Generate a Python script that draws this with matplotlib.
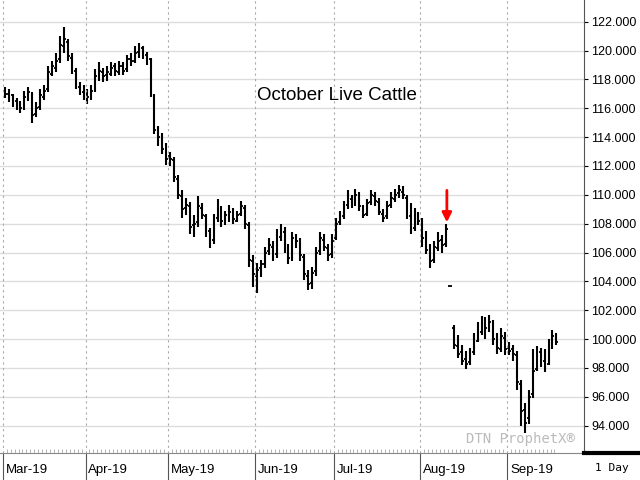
import numpy as np
import matplotlib
matplotlib.use("Agg")
import matplotlib.pyplot as plt

# daily OHLC, Mar-19 .. Sep-19 (trading days)
opens = [117.2,117.0,116.9,116.5,116.3,116.0,116.7,117.0,115.6,116.1,116.8,117.3,118.4,118.8,119.4,120.3,120.6,119.5,118.6,117.5,117.1,
         117.0,116.9,117.3,118.1,118.5,118.3,118.4,118.9,118.5,118.9,118.7,119.4,119.3,119.9,120.2,119.7,119.4,116.8,114.6,113.9,113.3,
         112.7,112.4,111.1,109.9,109.1,109.2,107.9,108.1,109.1,108.5,107.5,106.9,108.4,109.0,108.3,108.5,108.9,108.2,108.7,109.1,107.9,105.4,
         104.4,104.9,105.2,106.1,106.4,105.9,107.1,107.4,106.3,105.7,107.1,106.7,105.7,104.4,103.9,104.7,106.1,106.9,106.3,105.9,
         107.0,108.1,108.5,109.3,109.7,109.4,109.9,109.1,108.7,109.5,109.9,109.5,108.7,108.5,109.3,109.7,110.1,110.2,109.8,108.5,107.7,108.5,
         108.0,107.1,106.1,105.5,106.3,106.9,106.6,103.7,100.8,99.5,99.1,98.6,98.4,99.1,99.9,100.5,101.1,100.7,101.1,100.1,99.3,100.1,
         99.4,99.3,98.9,96.9,95.1,94.5,96.2,97.9,99.1,98.5,98.3,99.5,100.3]
highs = [117.5,117.3,117.0,116.7,116.5,117.2,117.5,117.1,116.4,117.3,117.6,118.9,119.3,119.8,121.0,121.6,120.8,119.8,118.8,117.8,117.6,
         117.3,117.6,118.7,119.2,118.8,118.9,119.2,119.1,119.3,119.2,119.7,119.8,120.3,120.5,120.3,119.9,119.5,117.0,114.8,114.3,113.6,
         113.0,112.6,111.4,110.3,109.8,109.5,108.6,109.9,109.4,108.7,107.7,108.7,109.7,109.2,108.9,109.3,109.1,108.9,109.6,109.3,108.1,105.8,
         105.3,105.5,106.4,107.0,106.8,107.6,108.0,107.8,106.6,107.4,107.3,107.0,105.9,104.8,105.0,106.4,107.4,107.3,106.6,107.3,
         108.4,108.9,109.6,110.3,110.0,110.4,110.2,109.3,109.7,110.3,110.2,109.8,109.0,109.6,110.2,110.4,110.7,110.6,110.0,109.4,109.1,108.8,
         108.4,107.5,106.6,106.8,107.4,107.2,108.0,103.7,101.0,100.3,99.6,99.2,99.4,100.4,101.2,101.6,101.5,101.7,101.3,100.4,100.8,100.5,
         99.8,99.6,99.2,97.2,95.6,96.5,99.3,99.5,99.4,99.3,100.0,100.6,100.4]
lows = [116.7,116.4,116.1,115.9,115.7,115.9,116.5,115.0,115.4,115.9,116.6,117.1,118.2,118.5,119.1,119.8,119.3,118.4,117.3,116.9,116.6,
        116.3,116.6,117.1,117.9,117.8,117.9,118.2,118.2,118.3,118.3,118.5,118.9,119.1,119.5,119.4,119.0,116.8,114.2,113.4,112.8,112.1,
        112.0,110.9,109.7,108.4,108.6,107.3,107.1,107.8,108.3,107.1,106.3,106.6,108.1,107.8,107.9,108.1,108.0,108.1,108.5,107.6,105.0,103.6,
        103.2,104.3,104.9,105.8,105.4,105.6,106.8,106.0,105.2,105.4,106.3,105.4,104.1,103.4,103.5,104.4,105.8,106.1,105.4,105.6,
        106.9,107.9,108.3,109.0,109.1,109.2,108.9,108.4,108.5,109.3,109.2,108.6,108.1,108.3,109.1,109.5,109.8,109.7,108.3,107.3,107.5,107.9,
        106.4,105.9,104.9,105.3,106.1,106.0,106.4,103.7,99.3,98.7,98.2,97.9,98.2,98.9,99.8,100.3,100.0,100.5,99.6,99.0,99.1,98.9,
        98.9,98.5,96.5,94.0,93.5,94.1,95.9,97.8,98.1,97.7,98.2,99.3,99.6]
closes = [117.0,116.8,116.4,116.2,116.0,116.8,117.1,115.5,116.0,116.9,117.2,118.5,118.9,119.3,120.4,120.8,119.6,118.7,117.6,117.2,117.0,
          116.8,117.2,118.2,118.6,118.2,118.5,118.8,118.6,118.9,118.6,119.4,119.3,119.8,120.2,119.8,119.4,117.0,114.5,114.0,113.2,112.5,
          112.5,111.2,110.0,109.0,109.3,107.8,108.0,109.2,108.6,107.4,106.8,108.3,109.1,108.2,108.6,108.8,108.3,108.6,109.2,108.0,105.5,104.5,
          104.8,105.2,106.0,106.5,105.8,107.2,107.5,106.4,105.6,107.0,106.8,105.8,104.5,103.8,104.6,106.0,107.0,106.4,105.8,106.8,
          108.0,108.4,109.2,109.8,109.5,110.0,109.2,108.6,109.4,110.0,109.6,108.8,108.4,109.2,109.8,110.0,110.3,110.0,108.6,107.6,108.6,108.2,
          107.0,106.2,105.4,106.4,106.8,106.5,107.6,103.7,99.6,99.0,98.5,98.3,99.0,99.8,100.6,101.0,100.8,101.2,100.0,99.4,100.2,99.3,
          99.2,99.0,97.0,95.0,94.2,96.0,97.8,99.2,98.6,98.2,99.4,100.2,99.8]
month_labels = ["Mar-19", "Apr-19", "May-19", "Jun-19", "Jul-19", "Aug-19", "Sep-19"]
month_days = [21, 21, 22, 20, 22, 22, 13]
price_ticks = list(range(94, 123, 2))

x = np.arange(len(closes))
month_starts = np.concatenate([[0], np.cumsum(month_days)[:-1]]) - 0.5

fig = plt.figure(figsize=(6.4, 4.8), dpi=100)
ax = fig.add_axes([0.0, 0.056, 0.9125, 0.944])

ax.vlines(x, lows, highs, color="black", lw=1.5)
ax.hlines(opens, x - 0.45, x, color="black", lw=1.3)
ax.hlines(closes, x, x + 0.45, color="black", lw=1.3)

ax.set_xlim(-1.2, month_starts[-1] + 19.5)
ax.set_ylim(92.1, 123.5)

ax.yaxis.tick_right()
ax.set_yticks(price_ticks)
ax.set_yticklabels(["%.3f" % v for v in price_ticks], fontsize=9, fontfamily="Liberation Sans")
ax.yaxis.grid(True, color="#dddddd", lw=1)
for m in month_starts:
    ax.axvline(m, color="#aaaaaa", ls=(0, (2, 3)), lw=0.8)

ax.set_xticks(month_starts)
ax.set_xticklabels(month_labels, ha="left", fontsize=9.5, fontfamily="Liberation Sans")
ax.set_xticks(x - 0.5, minor=True)
ax.tick_params(axis="x", which="major", length=22, direction="out", pad=-14, color="#555555")
for lbl in ax.get_xticklabels():
    lbl.set_transform(lbl.get_transform() + matplotlib.transforms.ScaledTranslation(2 / 72, 0, fig.dpi_scale_trans))
ax.tick_params(axis="x", which="minor", length=3, direction="in", color="#aaaaaa")
ax.tick_params(axis="y", length=3, direction="out", pad=2)
for s in ["top", "left"]:
    ax.spines[s].set_visible(False)
ax.spines["bottom"].set_color("#888888")
ax.spines["right"].set_color("#555555")

ax.text(0.44, 0.79, "October Live Cattle", transform=ax.transAxes, fontsize=13.5,
        fontfamily="Liberation Sans", ha="left", va="center")
ax.text(0.985, 0.015, "DTN ProphetX\u00ae", transform=ax.transAxes, fontsize=10,
        fontfamily="DejaVu Sans Mono", color="#bbbbbb", ha="right", va="bottom")
ax.annotate("", xy=(x[112] + 0.2, 107.9), xytext=(x[112] + 0.2, 110.5),
            arrowprops=dict(arrowstyle="-|>", color="red", lw=2, mutation_scale=14))

fig.text(0.956, 0.025, "1 Day", fontsize=8, fontfamily="DejaVu Sans Mono", ha="center", va="center")
fig.add_artist(plt.Line2D([0.9125, 1.0], [0.056, 0.056], color="black", lw=3))

fig.savefig("out.png", dpi=100)
